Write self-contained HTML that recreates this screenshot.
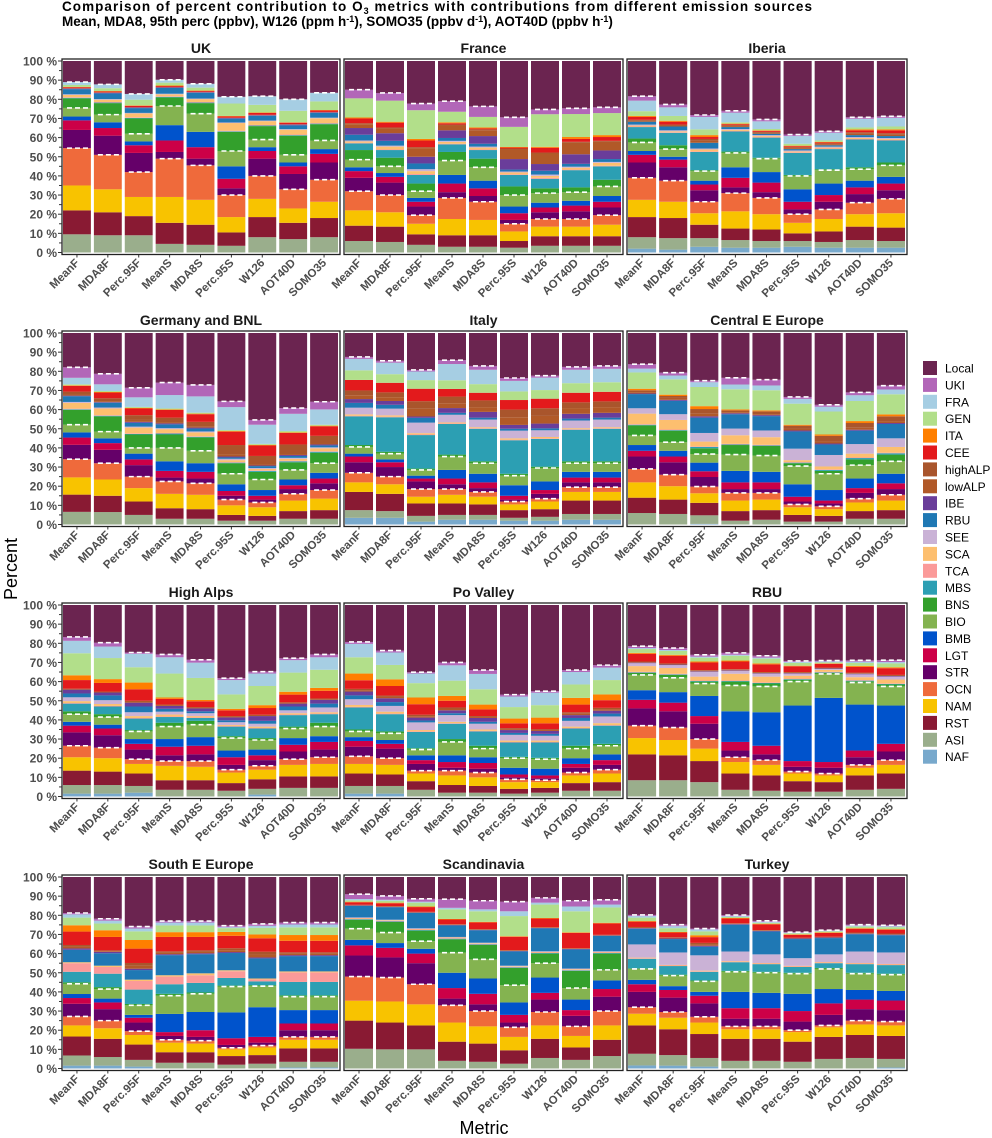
<!DOCTYPE html>
<html><head><meta charset="utf-8">
<style>
html,body{margin:0;padding:0;background:#fff;}
svg{display:block;font-family:"Liberation Sans",sans-serif;}
</style></head>
<body>
<svg id="chart" width="992" height="1138" viewBox="0 0 992 1138" xmlns="http://www.w3.org/2000/svg">
<text x="62" y="11" font-size="13.5" font-weight="bold" fill="#000" textLength="750" lengthAdjust="spacing">Comparison of percent  contribution to O<tspan font-size="9" dy="3">3</tspan><tspan dy="-3"> metrics with  contributions from different emission sources</tspan></text>
<text x="62" y="26" font-size="13.5" font-weight="bold" fill="#000">Mean, MDA8, 95th perc (ppbv), W126 (ppm h<tspan font-size="9" dy="-4">-1</tspan><tspan dy="4">),  SOMO35 (ppbv d</tspan><tspan font-size="9" dy="-4">-1</tspan><tspan dy="4">), AOT40D (ppbv h</tspan><tspan font-size="9" dy="-4">-1</tspan><tspan dy="4">)</tspan></text>
<text x="17" y="569" font-size="18" fill="#000" text-anchor="middle" transform="rotate(-90 17 569)">Percent</text>
<text x="484" y="1134" font-size="18" fill="#000" text-anchor="middle">Metric</text>
<g id="panels"></g>
<g id="legend"></g>
</svg>
<script>
// categories bottom -> top (Local computed as remainder)
const categories = ["NAF","ASI","RST","NAM","OCN","STR","LGT","BMB","BIO","BNS","MBS","TCA","SCA","SEE","RBU","IBE","lowALP","highALP","CEE","ITA","GEN","FRA","UKI","Local"];
const metrics = ["MeanF","MDA8F","Perc.95F","MeanS","MDA8S","Perc.95S","W126","AOT40D","SOMO35"];
const yTicks = [0,10,20,30,40,50,60,70,80,90,100];
const panelTitles = ["UK","France","Iberia","Germany and BNL","Italy","Central E Europe","High Alps","Po Valley","RBU","South E Europe","Scandinavia","Turkey"];
// values per bar: NAF,ASI,RST,NAM,OCN,STR,LGT,BMB,BIO,BNS,MBS,TCA,SCA,SEE,RBU,IBE,lowALP,highALP,CEE,ITA,GEN,FRA,UKI
const ukValues = [
[0,9.5,12.5,13,19.5,9.5,5,2,4.5,5,0.3,0.3,1.2,0.3,2.7,0.3,0.1,0.1,0.5,0.2,1,1.5,0],
[0,9,12,12,18,10,4,3,4,6,0.3,0.3,1.2,0.3,3,0.3,0.1,0.1,0.5,0.2,1.5,2,0],
[0,9,10,10,13,10,4,2,4,8,0.3,0.3,2,0.3,2.5,0.3,0.1,0.1,0.7,0.2,3,3,0],
[0,4.5,11,13.5,20,3.5,6,8,10,4.5,0.3,0.3,1,0.3,3,0.3,0.1,0.1,0.5,0.3,1.5,1.5,0],
[0,4,10.5,13,18,3.5,6,8,9.5,5.5,0.3,0.3,1.5,0.3,3,0.3,0.1,0.1,0.5,0.2,1.5,2,0],
[0,3.5,7,8,11.5,3.5,5,6.5,8,10,0.3,0.3,4,0.3,2,0.3,0.1,0.1,0.7,0.2,6.5,3.5,0],
[0,8,10.5,9.5,12,9,4,2,4,7,0.3,0.3,2,0.3,2.5,0.3,0.1,0.1,1,0.2,4,4.5,0],
[0,7,8.5,7.5,10,8,4,2,4,10,0.3,0.3,2.5,0.3,2,0.4,0.1,0.1,0.8,0.2,6,6,0],
[0,8,10,8.5,11.5,9,4.5,2.5,4.5,8.5,0.3,0.3,2.5,0.3,2.5,0.3,0.1,0.1,0.8,0.2,4.5,4.5,0]];
const franceValues = [
[0,6,8,8,10,7,3.5,2,4,5,3.5,0.3,0.7,0.5,3,3.5,2,0.5,2.5,0.5,10,0,4.5],
[0,5.5,8,7.5,9,6.5,3,2,3.5,4.5,4,0.3,1.5,0.5,2.5,4,2.5,0.5,2.5,0.5,11,0,4],
[0,4,5.5,5.5,4.5,4.5,2.5,2,3.5,4,4.5,0.5,1.5,1,3,3.5,4.5,0.5,3.5,0.8,15,0,3.5],
[0,3,6,8.5,11,3,4.5,4.5,7.5,4.5,4,0.3,1,0.5,1.5,4,2.5,0.5,0.7,0.5,5.5,0,5.5],
[0,3,6,8,9.5,3,4,4,7,4.5,4.5,0.3,1,0.5,1.5,4,3,0.5,0.5,0.5,5.5,0,5.5],
[0,2.5,3.5,5,4,2,3.5,3.5,6,4.5,6,0.3,1,0.5,1,5.5,5,0.5,0.5,0.3,10.5,0,5],
[0,3.5,5,5,4,3.5,2.5,2.5,5,2.5,5,0.5,1,0.7,2,3.5,5.5,0.5,2.5,0.5,17,0,2.5],
[0,3.5,5,5,4,4,3,2.5,4.5,2.5,9,0.3,1,0.5,1.5,5,6,0.5,1.5,1,12,0,3],
[0,3.5,5,6,5,4,3,3,5,3.5,7,0.3,1.5,0.5,1.5,4.5,4.5,0.5,2,1,11.5,0,3]];
const iberiaValues = [
[2,6,10.5,9,11.5,8,4,2,4.5,2,6,0.3,0.5,0.5,1.5,0,0.5,0.5,1.5,0.5,2.5,5.5,2.3],
[1.5,6,10.5,8.5,11,7,4,1.5,4,2,6.5,0.3,0.5,0.5,2,0,0.5,0.5,1.5,0.5,2.5,4.5,1.5],
[3,4.5,7,6,6,6,3,2,5,0.5,9.5,0.3,1,0.5,3,0,1,1,1,1,3,6.5,1],
[2.5,4,6,9,9.5,3,5,5.5,7.5,0.7,10.5,0.3,0.5,0.5,1,0,0.5,0.5,0.5,0.3,0.7,5,1],
[2.5,3.5,6,8,8.5,3,5,5.5,7,0.5,10.5,0.3,0.5,0.5,0.7,0,0.5,0.5,0.5,0.3,0.7,4,1],
[3,3,4,5.5,4.5,2.5,4,6.5,7,0.5,11.5,0.3,0.5,0.5,0.7,0,0.5,0.5,0.5,0.3,1,4,0.8],
[2.5,3,5.5,6.5,5,4,3.5,6,7,0.5,10.5,0.3,0.5,0.5,0.7,0,0.5,0.5,0.5,0.3,0.7,4,0.8],
[2.5,4,7,6.5,6,4.5,3.5,3.5,6,1,14.5,0.3,0.5,0.5,1,0,0.7,0.8,1,0.5,1,4.5,0.8],
[2.5,3.5,7,7.5,7.5,4.5,3.5,3.5,6,1.5,11.5,0.3,0.5,0.5,1,0,0.7,0.8,1.5,0.5,1.5,4.5,0.8]];
const germanyValues = [
[0,6.6,9,9,9.5,7.5,3.8,2.7,4,7.8,0.3,0.3,3,0.5,3,0.3,0.6,1.5,3,0.3,0.5,3.4,5.5],
[0,6.5,8.5,8.5,8.5,7,3.5,2.5,3.5,8,0.3,0.3,3.5,0.5,2.5,0.3,0.5,1.5,3,0.3,0.5,3.5,5.5],
[0,5,7,7,6,6,3,3,3,7,0.3,0.3,3,0.5,2,0.5,1,2.5,3.5,0.3,0.5,5,5],
[0,3,5.5,7.5,6.5,2,3.5,5,7,7,0.5,0.3,2,0.5,2,0.5,0.5,2.5,4,0.3,0.5,7,6.5],
[0,3,5,7.5,6,2.5,3.5,4.5,6.5,7,0.3,0.3,2,0.5,1.5,0.5,0.5,2.5,4,0.3,0.5,8.5,6],
[0,2,3,5,3,2,2.5,3.5,5.5,5.5,0.3,0.3,1,0.7,0.7,0.5,1,5,7,0.3,0.5,12,3],
[0,2,2.5,4.5,2.5,1.5,2,3,5.5,4,0.5,0.3,0.7,0.5,1,0.3,0.5,4.5,5.5,0.3,0.5,10,2.5],
[0,3,4,5.5,3.5,2.5,2,3,5,4,0.5,0.3,1,0.5,1,0.5,0.5,5,6,0.3,0.7,9,3],
[0,3,4.5,6,4.5,3.5,2.5,3,5,5.5,0.5,0.3,1.5,0.5,1,0.5,0.5,4,5,0.3,0.5,8,4]];
const italyValues = [
[3.5,4,9.5,5,5,5.5,3,1.5,3.5,1,15,0.3,0.7,3.5,2.5,2,2,2.5,5.5,0,5,6,1],
[3.5,3.5,9,5,4,5,2.5,1.5,3,1,18,0.3,0.7,3.5,2,2,2,2.5,5,0,4.5,6,1],
[1.5,3,6.5,3.5,4,4,1.5,1.5,3,0.7,17.5,0.3,0.7,5.5,2.5,0.7,4,4,6.5,0,4.5,4.5,0.8],
[2.5,2.5,6,4.5,3,2.5,3,4.5,7,1,16,0.3,0.5,4,1,2.5,2.5,3.5,4,0,4.5,8.5,2],
[2.5,2.5,5.5,4,2.5,2,3,4.5,5.5,1,17,0.3,0.5,4,1,3,2.5,3.5,4,0,4.5,7.5,2],
[2,1.5,4,3,1.5,1,2,5.5,5,1,17.5,0.3,0.7,4,1,2,4,4,5,0,4.5,5.5,1.5],
[2,2,4,4,1.5,2.5,2,4.5,7,0.7,14.5,0.3,0.7,3.5,1,2.5,4,4,5,0,4.5,6.5,1],
[2.5,3,7,4.5,2.5,2.5,2.5,3,4.5,1,16.5,0.3,0.5,4,1,2.5,3,3,5,0,5,7,1.5],
[2.5,3,7,4.5,2.5,2.5,2.5,3,4.5,1,17,0.3,0.5,4,1,2.5,3,3,5,0,5,7,1.5]];
const centralValues = [
[0,6,8,8,7,6.5,3,3,5,5.3,0.3,0.3,5.5,2.8,7.4,0.3,0.7,1,0,0.8,8.5,2,2.3],
[0,5.5,7.5,7,6,6.5,3,3,4.5,6,0.3,0.3,5,3,7,0.5,1,1,0,0.7,8,2,1.5],
[0.3,4.5,6.5,5,3.5,5,3,4.5,4.5,3,0.7,0.3,2.5,4.5,8,0.7,1.3,2.5,0,1.5,10,2.5,0.8],
[0,2,5,5.5,4,2,3.5,6,8.5,5,0.3,0.3,4.5,3.5,7.5,0.5,0.5,1,0,0.5,10.5,2.5,3.5],
[0,2.5,5,5.5,3.5,2,3.5,5.5,8.5,5,0.3,0.3,4,3.5,7.5,0.5,0.5,1.5,0,0.5,10.5,2.5,3],
[0,1.5,3.5,4,1.5,1.5,2.5,6.5,9.5,1.5,0.3,0.3,1,6,9,0.5,1,1.5,0,0.5,11,2.5,1],
[0,1.5,3,3.5,1.5,1.5,1.5,5.5,8.5,1.5,0.5,0.3,1.5,6,5.5,0.5,1,3,0,0.7,12,2.5,1],
[0,3,4,4.5,2,3,2.5,5,7,3,0.7,0.3,2,5,7,0.5,1,2.5,0,1,10.5,3,1.5],
[0,3,4.5,5,3,3,3,5,6.5,3.5,0.7,0.3,3,4.5,7.5,0.5,1,2.5,0,1,10.5,2.5,2]];
const alpsValues = [
[1.5,4.5,7.5,7,6,7,3.5,2,4,1.5,4,0.3,1,2,2,2,0.5,0,4.5,2.5,11.5,6.5,2],
[1.5,4.5,7,7,5.5,6.5,3.5,2,4,1.5,4,0.3,1,2,2.5,1.5,0.5,0,4.5,2,11,6,2],
[2,3.5,6.5,5,2.5,5,3,2.5,4,0.7,6,0.3,1,2,3,2,1,0,6,3.5,8,7,0.7],
[0,3.5,5,7.5,2.5,3,4.5,4,6.5,2,3,0.3,1,1.5,1.5,1.5,0.7,0,3,0.7,12.5,8.5,1.5],
[0,3.5,5,7,3,3.5,4.5,4.5,6.5,2,1.5,0.3,0.7,1.5,1,1.5,0.7,0,3,0.7,11.5,8,1.5],
[0,3,4,5.5,1.5,2.5,4,3.5,6.5,1,5,0.3,0.5,1.5,1,1.5,0.7,0,3,0.8,7.5,7.5,1],
[1,3,5,5,2,3,2.5,3,5,1,5,0.3,0.7,1.5,1.5,2.5,0.7,0,3.5,1.5,10,6.5,1],
[0,4.5,6,6,3,4,3.5,3.5,5,1,6,0.3,0.7,1.5,2,1.5,0.7,0,4,1.5,10,6.5,1],
[0,4.5,6,6.5,3.5,4,4,3,5,2,4.5,0.3,0.7,2.5,2,2,0.7,0,4,1.5,9.5,6.5,1.5]];
const poValues = [
[1.5,4,6.5,5,4,5,3,2,3,1,11.5,0.3,1,3,2,2,0.7,0.7,4.5,3.5,8.5,7,1],
[1.5,4,6,5,3.5,5,2.5,2,3.5,1,9,0.3,1,3,2,2,0.7,0.7,5,3.5,7.5,6.5,1],
[0,3.5,4.5,4,1.5,3.5,2,2.5,3,0.7,8.5,0.3,0.7,4,1,1.5,0.7,0.8,5.5,3.5,7.5,5,0.7],
[0,2,4,5,2.5,1.5,3,3.5,7,1.5,8,0.3,0.7,3.5,1,1.5,0.7,0.8,3.5,2.5,8,8,1.5],
[0,2,3.5,4.5,2.5,2,3,3,4.5,1.5,7.5,0.3,0.7,3,1,2,0.5,0.5,3.5,2.5,8,8,2],
[0,1.5,2.5,3.5,1.5,1,1.5,3.5,5,0.7,7.5,0.3,0.7,3,1,1.5,0.5,0.5,2.5,2.5,6,5.5,1],
[0,2,2.5,3,1,1,1.5,3.5,5,0.7,8,0.3,0.7,2.5,1,1.5,0.5,0.5,3,3,6.5,6.5,0.8],
[0,3,4,4,1.5,2.5,2,3,5,1.5,9,0.3,0.7,3,1.5,1.5,0.7,0.8,4,3.5,7,6.5,1],
[0,3,4.5,4.5,2,2.5,2.5,3,4.5,1,9.5,0.3,1,3.5,1.5,1.5,0.7,0.8,4,3,7.5,6.5,1.3]];
const rbuValues = [
[0,8.5,13.5,8.5,6.5,9,4.5,5,8,1,0.3,0.3,3,1.5,0,0.3,0.3,0.3,4,0.5,2,0.5,1],
[0,8.5,13,8,6.5,8.5,4.5,5.5,7.5,1.5,0.3,0.3,3,1.5,0,0.3,0.3,0.3,4,0.5,2,0.5,1],
[0,7.5,11,6.5,5,8,4,10.5,6.5,1,0.3,0.3,2,2.5,0,0.3,0.3,0.3,4,0.5,2,0.5,1],
[0,3.5,8.5,6,2.5,3.5,4.5,16,13.5,2,0.3,0.3,3.5,1.5,0,0.3,0.3,0.3,4,0.5,2.5,0.5,1],
[0,3,8,5.5,2.5,3,4.5,17.5,13.5,1.5,0.3,0.3,3,1.5,0,0.3,0.3,0.3,4,0.5,2.5,0.5,1],
[0,2.5,5.5,4,1,2.5,3,29,12.5,1,0.3,0.3,1.5,1,0,0.3,0.3,0.3,3,0.3,1.5,0.5,0.5],
[0,2.5,5,3.5,1,3,3,33.5,12.5,0.5,0.3,0.3,1,0.5,0,0.3,0.2,0.2,2,0.2,0.5,0.5,0.5],
[0,3.5,7.5,4,1.5,4,3.5,24,11.5,0.7,0.3,0.3,1.5,1.5,0,0.3,0.3,0.3,3,0.5,1.5,0.7,0.7],
[0,4,8,4.5,2.5,4.5,4,20,10,1,0.3,0.3,2,1.5,0,0.3,0.3,0.3,3.5,0.5,2,0.7,1]];
const seeValues = [
[1.5,5.3,9.9,5.8,4.7,6.6,3,2.1,5.3,0.8,5.5,4.5,0.5,0,6.5,0.7,0.8,1,7,3.3,4,1.7,0.7],
[1.5,4.5,9.5,5.5,4,6,3.5,2,5,1,7,3.5,0.7,0,6.5,0.7,0.4,0.4,7,3.5,3.5,1.5,1],
[1,3.5,8,5,2,4.5,2.5,1.5,5,0.7,7.5,4.5,0.7,0,5,0.7,1.5,1.5,7.5,4.5,4.5,1.5,1],
[0,3,5.5,5,1.5,2,2,9.5,9.5,1,5,4,0.7,0,10.5,0.5,0.7,0.8,7.5,2.5,3.5,1.5,0.8],
[0,3,5.5,4.5,1.5,2,3.5,9.5,9.5,0.7,5,4,1,0,10,0.5,0.7,0.8,7,2.5,3.5,1.5,0.8],
[0,2,4.5,3.5,0.8,1.5,3.5,13.5,13.5,0.5,4,3.5,0.5,0,9,0.5,1,1,6.5,2,2,0.5,0.8],
[0,2.5,4.5,4,1,1.5,3,15.5,11,0.5,2,1,0.5,0,10.5,0.5,1.5,1.5,7,2,3.5,1,1],
[0.5,3,7,4.5,1.5,3.5,3.5,7,7,0.7,7,5,0.5,0,8,0.5,0.7,0.8,6,3,4,1.5,1],
[0.5,3,7,4.5,1.5,3.5,3.5,7,7,0.7,7,5,0.5,0,8,0.5,0.7,0.8,6,3,4,1.5,1]];
const scandValues = [
[0,10.3,14.7,10.4,12.6,11,5.3,2.9,5.8,4.7,0.3,0.3,0.3,0.3,6,0.2,0.2,0.2,1.3,0.3,0.7,0.7,2.5],
[0,10,14,11,12.5,10.5,5,2.5,5.5,5.5,0.3,0.3,0.3,0.3,6.5,0.2,0.2,0.2,1.5,0.3,1,0.5,2],
[0,10,12.5,11,10.5,11,5,2.5,4,5.5,0.3,0.3,0.3,0.3,8,0.2,0.2,0.2,2.5,0.3,2,0.5,1.5],
[0,4,10,10,9,3.5,5.5,8,10.5,7,0.3,0.3,0.3,0.3,6,0.2,0.2,0.2,2.5,0.3,5,0.8,4.5],
[0,3.5,9.5,9,8,3.5,5.5,8,10,7.5,0.3,0.3,0.3,0.3,6.5,0.2,0.2,0.2,3.5,0.3,5.5,1,4.5],
[0,2.5,7,7,5,2.5,4,6.5,9,9,0.3,0.3,0.3,0.3,7.5,0.2,0.2,0.2,7,0.3,10.5,2.5,5],
[0,5.5,10,7,7,6.5,3.5,8,7.5,5,0.3,0.3,0.3,0.3,12,0.2,0.2,0.2,4.5,0.3,7,1,2.5],
[0,4.5,6.5,6,5,5.5,3,5.5,6,9,0.3,0.3,0.3,0.3,10,0.2,0.2,0.2,8,0.3,11,2.5,3],
[0,6.5,8.5,7.5,7.5,7.5,4,4.5,5.5,8.5,0.3,0.3,0.3,0.3,8,0.2,0.2,0.2,6,0.3,8,1.5,2.5]];
const turkeyValues = [
[1.6,6.1,14.8,6.1,3.4,8,4,2.3,5.7,0.3,5,0.3,0.3,6.9,8.2,0.3,0.3,0.3,2.8,0.3,1.8,0.8,0.6],
[1.5,5.5,13.5,6,3,7.5,4,2,5.5,0.5,4.5,0.3,0.3,6.5,7,0.3,0.3,0.3,2.5,0.3,2,1,0.8],
[1,4.5,12.5,6,3,7,4,2,5.5,0.5,4.5,0.3,0.3,8,4.5,0.5,0.7,0.8,3,1,2,1,0.5],
[0,4,11.5,5,1.5,4,5.5,8.5,10.5,0.5,4.5,0.3,0.3,5,14,0.3,0.2,0.2,2.5,0.3,0.5,0.5,0.5],
[0,4,11.5,5,1.5,4,5.5,8,10.5,0.5,4,0.3,0.3,4.5,12,0.3,0.2,0.2,3,0.3,0.5,0.5,0.5],
[0,3.5,10.5,5,1,4.5,5.5,9,10.5,0.5,3,0.3,0.3,4,10,0.3,0.2,0.2,1.5,0.3,0.5,0.3,0.3],
[0,5,11.5,5,1,5.5,6,7.5,10.5,0.5,2.5,0.3,0.3,4,8.5,0.3,0.2,0.2,2,0.3,0.5,0.3,0.3],
[0,5.5,12,5.5,2,6,5,5,8.5,0.5,4.5,0.3,0.3,6,9,0.3,0.3,0.3,2,0.3,0.8,0.5,0.5],
[0.5,4.5,12,5.5,2,6,5,5,8.5,0.5,4.5,0.3,0.3,6,9,0.3,0.3,0.3,2,0.3,1,0.5,0.5]];
const panelValues = [ukValues,franceValues,iberiaValues,germanyValues,italyValues,centralValues,alpsValues,poValues,rbuValues,seeValues,scandValues,turkeyValues];

const colors = {NAF:"#78a9cc",ASI:"#9aae8c",RST:"#891a33",NAM:"#f8c300",OCN:"#ef6a3b",STR:"#650069",LGT:"#cc0047",BMB:"#0053cc",BIO:"#84b350",BNS:"#33a02c",MBS:"#2c9fb3",TCA:"#fb9a99",SCA:"#fdbf6f",SEE:"#cab2d6",RBU:"#1f78b4",IBE:"#6a3d9a",lowALP:"#b15928",highALP:"#a9552c",CEE:"#e31a1c",ITA:"#ff7f00",GEN:"#b2df8a",FRA:"#a6cee3",UKI:"#b266b8",Local:"#6b2450"};
const dashAfter = [4,8,22]; // after OCN, BIO, UKI

const NS = "http://www.w3.org/2000/svg";
function mk(tag, attrs, parent){const e=document.createElementNS(NS,tag);for(const k in attrs)e.setAttribute(k,attrs[k]);parent.appendChild(e);return e;}
const colX = [62,344,627], colW = [278,279,280];
const rowTop = [61,333,605,877], plotH = 191.5;
const panelsG = document.getElementById("panels");

panelTitles.forEach((title, p) => {
  const r = Math.floor(p/3), c = p%3;
  const x0 = colX[c], w = colW[c], top = rowTop[r];
  const yScale = v => top + plotH*(1 - v/100);
  const step = w/metrics.length, bw = step - 3;
  const xScale = i => x0 + 1 + i*step;
  const g = mk("g", {}, panelsG);
  
  
  const t = mk("text", {x:x0+w/2, y:top-8, "font-size":14, "font-weight":"bold", "text-anchor":"middle", fill:"#1a1a1a"}, g);
  t.textContent = title;
  
  
  const bg = mk("rect", {x:x0, y:top-2, width:w, height:plotH+4, fill:"#fff"}, g);
  
  
  const vals = panelValues[p];
  metrics.forEach((m, i) => {
    const bar = vals[i];
    let cum = 0;
    const bx = xScale(i);
    const bg2 = mk("g", {}, g);
    
    
    const tops = [];
    categories.forEach((cat, k) => {
      const v = k < 23 ? bar[k] : Math.max(0, 100 - cum);
      if (v > 0) {
        const yT = yScale(cum + v), yB = yScale(cum);
        const seg = mk("rect", {x:bx, y:yT, width:bw, height:Math.max(0, yB-yT), fill:colors[cat]}, bg2);
        
        
      }
      cum += v;
      tops.push(cum);
    });
    dashAfter.forEach(k => {
      const yy = yScale(tops[k]);
      const ln = mk("line", {x1:bx+4, x2:bx+bw-2, y1:yy, y2:yy, stroke:"#fff", "stroke-width":1.6, "stroke-dasharray":"5 3"}, bg2);
      
      
    });
    const tk = mk("line", {x1:bx+bw/2, x2:bx+bw/2, y1:top+plotH+2, y2:top+plotH+5, stroke:"#333", "stroke-width":1}, g);
    
    
    const lx = bx + bw/2 + 3, ly = top + plotH + 11;
    const lbl = mk("text", {x:lx, y:ly, "font-size":11.5, "font-weight":"bold", fill:"#4d4d4d", "text-anchor":"end", transform:`rotate(-45 ${lx} ${ly})`}, g);
    lbl.textContent = m;
    
    
  });
  const fr = mk("rect", {x:x0, y:top-2, width:w, height:plotH+4, fill:"none", stroke:"#222", "stroke-width":1.3}, g);
  
  
  if (c === 0) {
    for (let v = 0; v <= 100; v += 5) {
      const yy = yScale(v);
      const tk = mk("line", {x1:x0-(v%10===0?4:3), x2:x0, y1:yy, y2:yy, stroke:"#333", "stroke-width":1}, g);
      
      
    }
    yTicks.forEach(v => {
      const tl = mk("text", {x:x0-5, y:yScale(v)+4.5, "font-size":12, "font-weight":"bold", fill:"#4d4d4d", "text-anchor":"end"}, g);
      tl.textContent = v + " %";
      
      
    });
  }
});

const legG = document.getElementById("legend");


categories.slice().reverse().forEach((cat, i) => {
  const y = 361 + i*16.9;
  const eg = mk("g", {}, legG);
  
  
  mk("rect", {x:923, y:y, width:14, height:14, fill:colors[cat]}, eg);
  const tx = mk("text", {x:945, y:y+11.5, "font-size":12, fill:"#000"}, eg);
  tx.textContent = cat;
});
</script>
</body></html>
